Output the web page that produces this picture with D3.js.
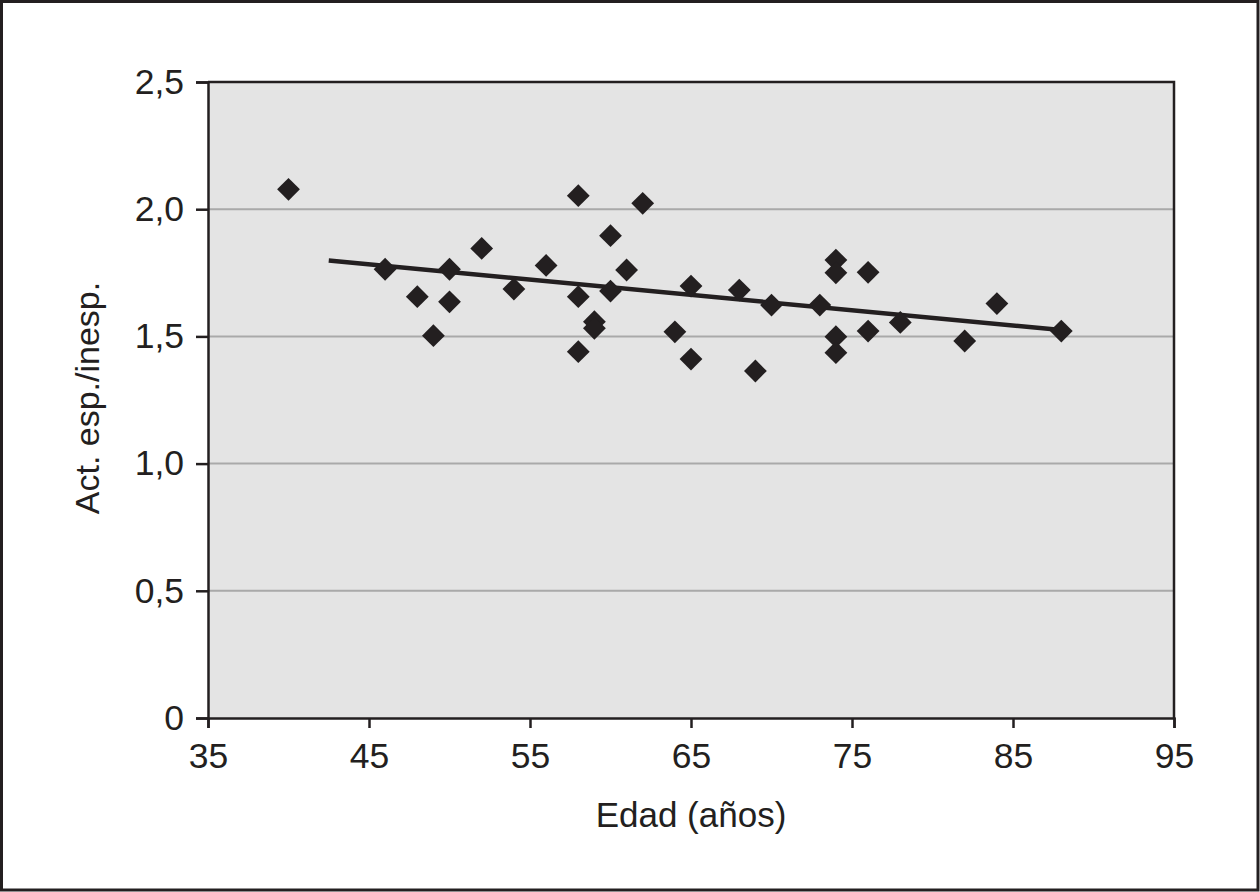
<!DOCTYPE html>
<html><head><meta charset="utf-8">
<script src="https://cdn.jsdelivr.net/npm/d3@7"></script>
<style>html,body{margin:0;padding:0;background:#fff;} svg{display:block;}</style>
</head><body>
<script>
// Data
const edad = [40,46,48,49,50,50,52,54,56,58,58,58,59,59,60,60,61,62,64,65,65,68,69,70,73,74,74,74,74,76,76,78,82,84,88];
const ratio = [2.078,1.764,1.656,1.503,1.764,1.636,1.846,1.686,1.779,2.053,1.656,1.440,1.558,1.532,1.896,1.678,1.761,2.023,1.518,1.698,1.411,1.682,1.364,1.623,1.623,1.800,1.750,1.499,1.436,1.752,1.521,1.555,1.482,1.629,1.521];
const trendX = [42.5, 88];
const trendY = [1.798, 1.525];
const xTicks = [35,45,55,65,75,85,95];
const yTicks = [0,0.5,1.0,1.5,2.0,2.5];
const xTitle = "Edad (años)";
const yTitle = "Act. esp./inesp.";

const W = 1260, H = 892;
const m = {left:208, top:82, right:1174, bottom:718};
const svg = d3.select("body").append("svg").attr("width",W).attr("height",H);
const font = "'Liberation Sans', Arial, Helvetica, sans-serif";

// outer frame
svg.append("rect").attr("x",1.5).attr("y",1.5).attr("width",W-3.5).attr("height",H-3.5)
  .attr("fill","#fff").attr("stroke","#231f20").attr("stroke-width",3);

const x = d3.scaleLinear().domain([35,95]).range([m.left,m.right]);
const y = d3.scaleLinear().domain([0,2.5]).range([m.bottom,m.top]);

// plot background
svg.append("rect").attr("x",m.left).attr("y",m.top).attr("width",m.right-m.left).attr("height",m.bottom-m.top)
  .attr("fill","#e4e4e4");

// gridlines
svg.append("g").selectAll("line").data(yTicks.filter(d=>d>0 && d<2.5)).join("line")
  .attr("x1",m.left).attr("x2",m.right).attr("y1",d=>y(d)).attr("y2",d=>y(d))
  .attr("stroke","#a9a9a9").attr("stroke-width",2);

// top/right border
svg.append("path").attr("d",`M${m.left},${m.top}H${m.right}V${m.bottom}`)
  .attr("fill","none").attr("stroke","#231f20").attr("stroke-width",2.5);

const fmt = d => d===0 ? "0" : d3.format(".1f")(d).replace(".",",");

// y axis
const yAxis = svg.append("g").attr("transform",`translate(${m.left},0)`)
  .call(d3.axisLeft(y).tickValues(yTicks).tickFormat(fmt).tickSizeOuter(0).tickSize(12).tickPadding(12));
// x axis
const xAxis = svg.append("g").attr("transform",`translate(0,${m.bottom})`)
  .call(d3.axisBottom(x).tickValues(xTicks).tickFormat(d3.format("d")).tickSizeOuter(0).tickSize(10).tickPadding(15));
[yAxis,xAxis].forEach(g=>{
  g.selectAll(".domain").attr("stroke","#231f20").attr("stroke-width",2.5);
  g.selectAll(".tick line").attr("stroke","#231f20").attr("stroke-width",2.5);
  g.selectAll("text").attr("fill","#231f20").style("font-family",font).style("font-size","35.5px");
});

// trend line
svg.append("line").attr("x1",x(trendX[0])).attr("y1",y(trendY[0])).attr("x2",x(trendX[1])).attr("y2",y(trendY[1]))
  .attr("stroke","#231f20").attr("stroke-width",4.5);

// markers
const sym = d3.symbol().type(d3.symbolSquare).size(260);
svg.append("g").selectAll("path").data(edad.map((d,i)=>[d,ratio[i]])).join("path")
  .attr("d",sym).attr("transform",d=>`translate(${x(d[0])},${y(d[1])}) rotate(45)`)
  .attr("fill","#231f20");

// titles
svg.append("text").attr("x",(m.left+m.right)/2).attr("y",827).attr("text-anchor","middle")
  .style("font-family",font).style("font-size","35px").attr("fill","#231f20").text(xTitle);
svg.append("text").attr("transform",`translate(99,${(m.top+m.bottom)/2 - 2}) rotate(-90)`).attr("text-anchor","middle")
  .style("font-family",font).style("font-size","34px").attr("fill","#231f20").text(yTitle);
</script>
</body></html>
